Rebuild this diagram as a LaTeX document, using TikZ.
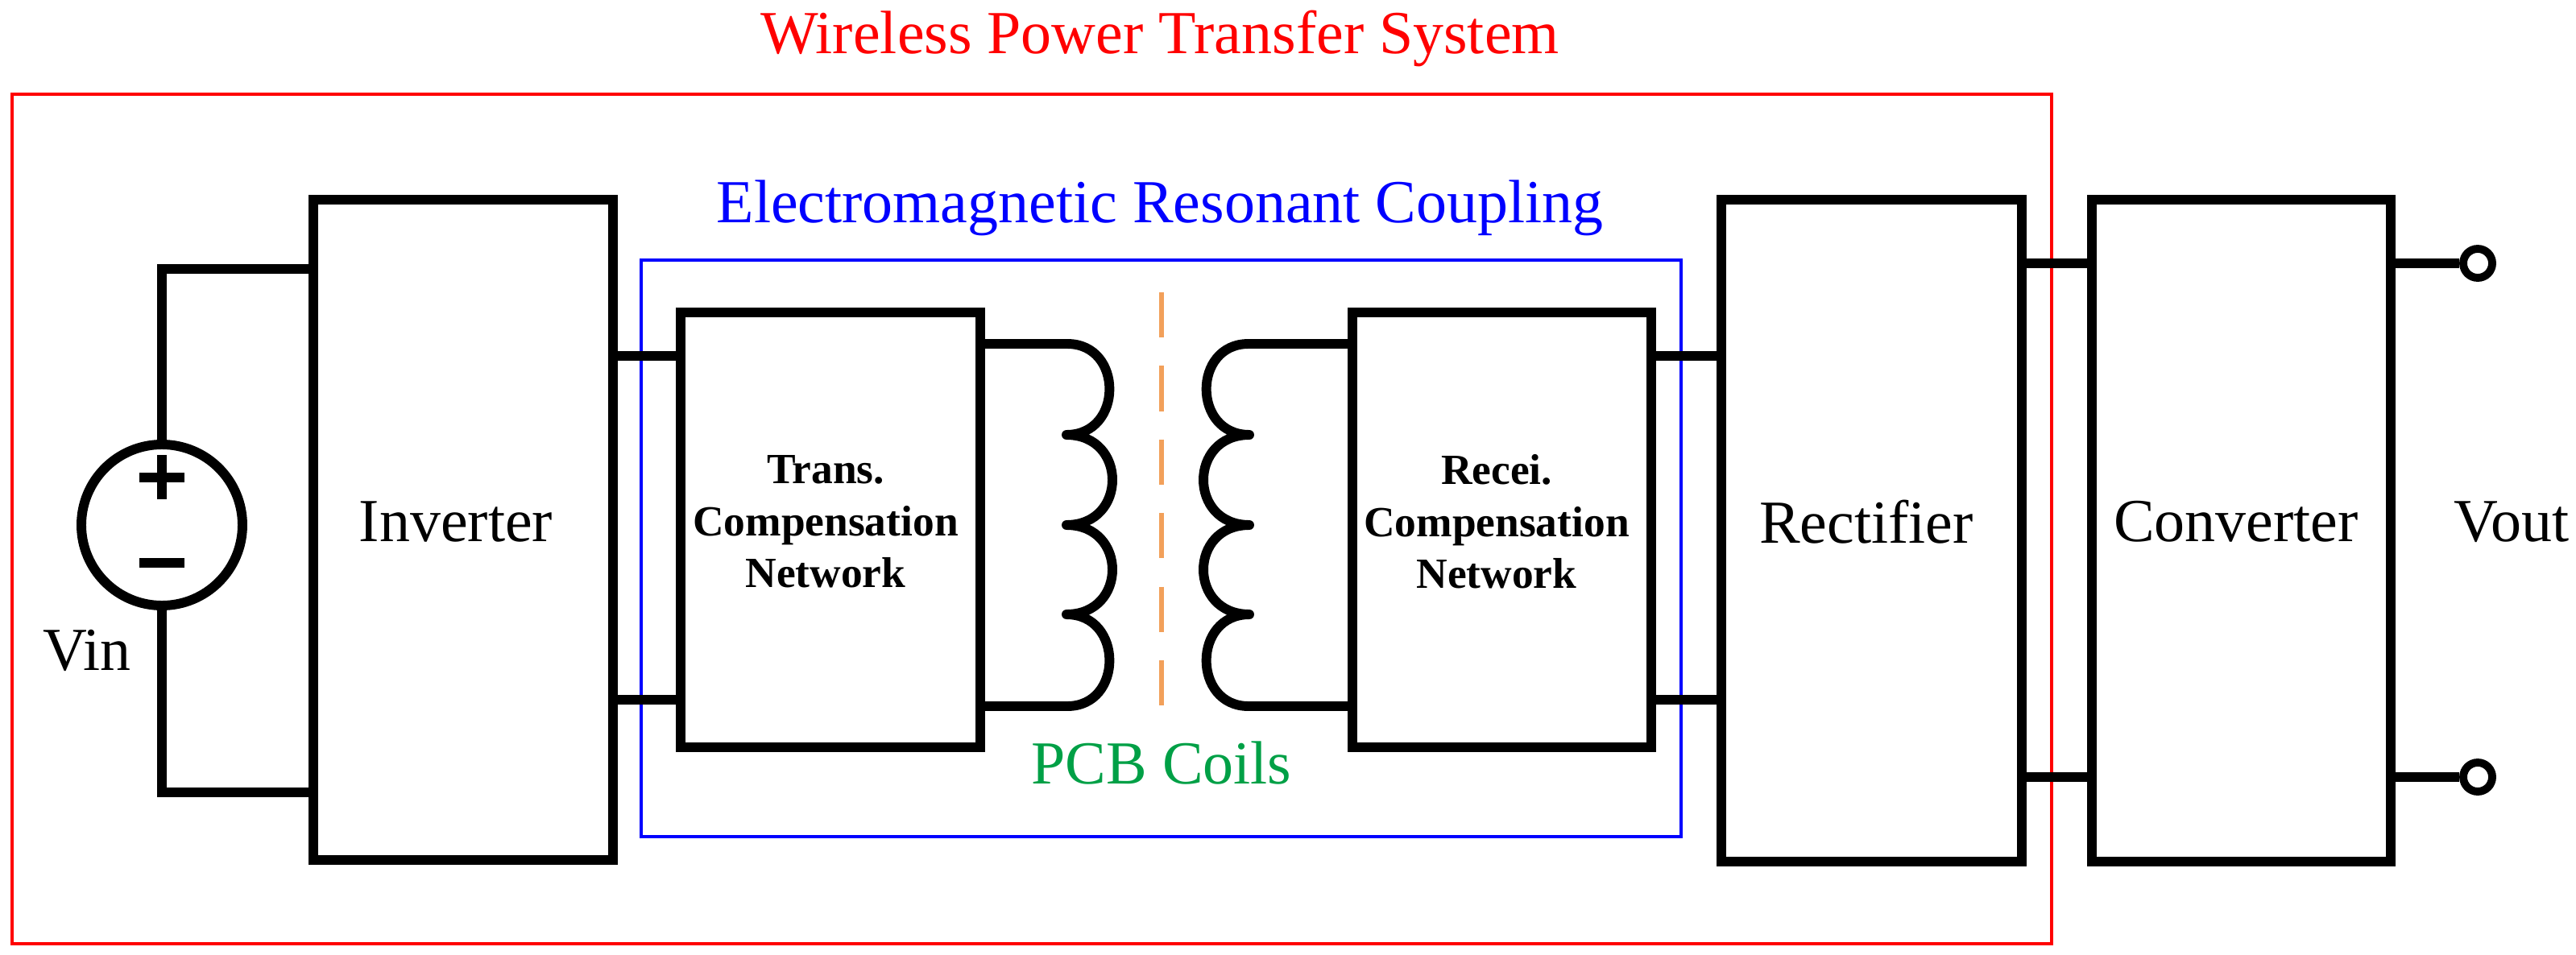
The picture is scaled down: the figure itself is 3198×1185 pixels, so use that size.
\documentclass[tikz,border=0pt]{standalone}
\usepackage{fontspec}
\setmainfont{Liberation Serif}
\definecolor{dashor}{RGB}{242,160,90}
\definecolor{pcbgreen}{RGB}{0,160,70}
\begin{document}
\begin{tikzpicture}[x=0.025cm,y=-0.025cm,
  blk/.style={draw,line width=8.5pt,inner sep=0pt,anchor=north west},
  wire/.style={line width=8.5pt},
  big/.style={font=\fontsize{54}{62}\selectfont},
  small/.style={font=\bfseries\fontsize{38}{46}\selectfont,align=center}]
\useasboundingbox (0,0) rectangle (3198,1185);
% frames
\draw[red,line width=2.5pt] (15,117) rectangle (2547,1172);
\node[red,big] (ttl) at (1440,48) {Wireless Power Transfer System};
\draw[blue,line width=2.5pt] (796,323) rectangle (2087,1039);
\node[blue,big] (emt) at (1440,258) {Electromagnetic Resonant Coupling};
\node[pcbgreen,big] (pcb) at (1442,948) {PCB Coils};
% blocks
\node[blk,minimum width=372*0.025cm,minimum height=820*0.025cm] (inv) at (383,242) {};
\node[big] at (566,648) {Inverter};
\node[blk,minimum width=372*0.025cm,minimum height=540*0.025cm] (tx) at (839,382) {};
\node[small] at (1025,648) {Trans.\\Compensation\\Network};
\node[blk,minimum width=371*0.025cm,minimum height=540*0.025cm] (rx) at (1673,382) {};
\node[small] at (1858,648) {Recei.\\Compensation\\Network};
\node[blk,minimum width=373*0.025cm,minimum height=822*0.025cm] (rec) at (2131,242) {};
\node[big] at (2317,648) {Rectifier};
\node[blk,minimum width=371*0.025cm,minimum height=822*0.025cm] (conv) at (2591,242) {};
\node[big] at (2776,648) {Converter};
\node[big] (vout) at (3118,648) {Vout};
% source
\node[draw,circle,line width=8.5pt,minimum size=200*0.025cm,inner sep=0pt] (src) at (201,652) {};
\draw[line width=8.5pt] (201,565) -- (201,620) (173,593) -- (229,593);
\draw[line width=8.5pt] (173,699) -- (229,699);
\node[big] (vin) at (108,808) {Vin};
\draw[wire] (src.north) -- (201,334) -- (inv.west |- 0,334);
\draw[wire] (src.south) -- (201,984) -- (inv.west |- 0,984);
% interconnects
\draw[wire] (inv.east |- 0,442) -- (tx.west |- 0,442);
\draw[wire] (inv.east |- 0,869) -- (tx.west |- 0,869);
\draw[wire] (rx.east |- 0,442) -- (rec.west |- 0,442);
\draw[wire] (rx.east |- 0,869) -- (rec.west |- 0,869);
\draw[wire] (rec.east |- 0,327) -- (conv.west |- 0,327);
\draw[wire] (rec.east |- 0,965) -- (conv.west |- 0,965);
% outputs
\node[draw,circle,line width=7pt,minimum size=36*0.025cm,inner sep=0pt,fill=white] (o1) at (3076,327) {};
\node[draw,circle,line width=7pt,minimum size=36*0.025cm,inner sep=0pt,fill=white] (o2) at (3076,965) {};
\draw[wire] (conv.east |- 0,327) -- (o1.west);
\draw[wire] (conv.east |- 0,965) -- (o2.west);
% coils
\draw[wire,line join=round] (tx.east |- 0,427) -- (1325,427)
  .. controls (1395,427) and (1395,540) .. (1324,540)
  .. controls (1400,540) and (1400,652) .. (1324,652)
  .. controls (1400,652) and (1400,763) .. (1324,763)
  .. controls (1395,763) and (1395,877) .. (1325,877) -- (tx.east |- 0,877);
\draw[wire,line join=round] (rx.west |- 0,427) -- (1550,427)
  .. controls (1480,427) and (1480,540) .. (1551,540)
  .. controls (1475,540) and (1475,652) .. (1551,652)
  .. controls (1475,652) and (1475,763) .. (1551,763)
  .. controls (1480,763) and (1480,877) .. (1550,877) -- (rx.west |- 0,877);
\coordinate (d1) at (1442,363);
\coordinate (d2) at (1442,896);
\draw[dashor,line width=4.5pt,dash pattern=on 40pt off 25pt] (d1) -- (d2);
\end{tikzpicture}
\end{document}
